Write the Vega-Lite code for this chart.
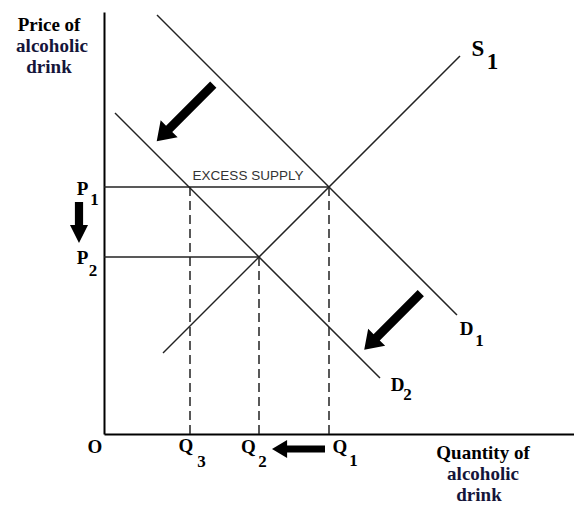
{
  "$schema": "https://vega.github.io/schema/vega-lite/v6.json",
  "width": 470,
  "height": 422,
  "autosize": "none",
  "padding": {"left": 104, "top": 12, "right": 0, "bottom": 71},
  "background": "white",
  "config": {
    "view": {"stroke": null},
    "axis": {"domainColor": "#000", "domainWidth": 2, "ticks": false, "labels": false, "grid": false, "title": null}
  },
  "datasets": {
    "lines": [
      {"name": "S1", "x": 59, "y": 81, "x2": 356, "y2": 378},
      {"name": "D1", "x": 53, "y": 419, "x2": 353, "y2": 119},
      {"name": "D2", "x": 11, "y": 321, "x2": 276, "y2": 56},
      {"name": "P1", "x": 0, "y": 247, "x2": 225, "y2": 247},
      {"name": "P2", "x": 0, "y": 177, "x2": 155, "y2": 177}
    ],
    "dashes": [
      {"name": "Q3", "x": 86, "y": 0, "y2": 247},
      {"name": "Q2", "x": 155, "y": 0, "y2": 177},
      {"name": "Q1", "x": 225, "y": 0, "y2": 247}
    ],
    "diagArrows": [
      {"name": "demand shift", "x": 81, "y": 321},
      {"name": "demand shift 2", "x": 288.5, "y": 112.5}
    ],
    "priceArrow": [{"name": "price fall", "x": -25, "y": 211.5}],
    "qtyArrow": [{"name": "quantity fall", "x": 194.5, "y": -15}],
    "titles": [
      {"text": "Price of", "x": -55, "y": 409, "part": "a"},
      {"text": "alcoholic", "x": -52, "y": 388, "part": "b"},
      {"text": "drink", "x": -55, "y": 367, "part": "b"},
      {"text": "Quantity of", "x": 379, "y": -19, "part": "a"},
      {"text": "alcoholic", "x": 379, "y": -40, "part": "b"},
      {"text": "drink", "x": 375, "y": -61, "part": "b"}
    ],
    "letters": [
      {"text": "P", "x": -21.5, "y": 245.5},
      {"text": "P", "x": -21.5, "y": 176.5},
      {"text": "O", "x": -9, "y": -13},
      {"text": "Q", "x": 82, "y": -12},
      {"text": "Q", "x": 144.5, "y": -13},
      {"text": "Q", "x": 236, "y": -13},
      {"text": "D", "x": 362.5, "y": 105},
      {"text": "D", "x": 293.5, "y": 49.5}
    ],
    "subs": [
      {"text": "1", "x": -9.5, "y": 234},
      {"text": "2", "x": -11, "y": 163},
      {"text": "3", "x": 97.5, "y": -28},
      {"text": "2", "x": 158.5, "y": -28},
      {"text": "1", "x": 249.5, "y": -27},
      {"text": "1", "x": 375.5, "y": 93},
      {"text": "2", "x": 303.5, "y": 39}
    ],
    "supply": [
      {"text": "S", "x": 374, "y": 385},
      {"text": "1", "x": 388.5, "y": 372.5}
    ],
    "notes": [{"text": "EXCESS SUPPLY", "x": 144, "y": 258}]
  },
  "layer": [
    {
      "data": {"name": "lines"},
      "mark": {"type": "rule", "color": "#222", "strokeWidth": 1.5},
      "encoding": {
        "x": {"field": "x", "type": "quantitative", "scale": {"domain": [0, 470], "nice": false, "zero": false}, "axis": {"orient": "bottom"}},
        "y": {"field": "y", "type": "quantitative", "scale": {"domain": [0, 422], "nice": false, "zero": false}, "axis": {"orient": "left"}},
        "x2": {"field": "x2"},
        "y2": {"field": "y2"}
      }
    },
    {
      "data": {"name": "dashes"},
      "mark": {"type": "rule", "color": "#222", "strokeWidth": 1.5, "strokeDash": [9, 5]},
      "encoding": {
        "x": {"field": "x", "type": "quantitative"},
        "y": {"field": "y", "type": "quantitative"},
        "y2": {"field": "y2"}
      }
    },
    {
      "data": {"name": "diagArrows"},
      "mark": {"type": "point", "filled": true, "opacity": 1, "color": "#000", "size": 6400, "angle": 225,
               "shape": "M0,-1L0.3,-0.56L0.11,-0.56L0.11,1L-0.11,1L-0.11,-0.56L-0.3,-0.56Z"},
      "encoding": {
        "x": {"field": "x", "type": "quantitative"},
        "y": {"field": "y", "type": "quantitative"}
      }
    },
    {
      "data": {"name": "priceArrow"},
      "mark": {"type": "point", "filled": true, "opacity": 1, "color": "#000", "size": 1681, "angle": 180,
               "shape": "M0,-1L0.44,-0.12L0.2,-0.12L0.2,1L-0.2,1L-0.2,-0.12L-0.44,-0.12Z"},
      "encoding": {
        "x": {"field": "x", "type": "quantitative"},
        "y": {"field": "y", "type": "quantitative"}
      }
    },
    {
      "data": {"name": "qtyArrow"},
      "mark": {"type": "point", "filled": true, "opacity": 1, "color": "#000", "size": 2809, "angle": 270,
               "shape": "M0,-1L0.34,-0.43L0.13,-0.43L0.13,1L-0.13,1L-0.13,-0.43L-0.34,-0.43Z"},
      "encoding": {
        "x": {"field": "x", "type": "quantitative"},
        "y": {"field": "y", "type": "quantitative"}
      }
    },
    {
      "data": {"name": "titles"},
      "mark": {"type": "text", "font": "Liberation Serif", "fontWeight": "bold", "fontSize": 19, "align": "center", "baseline": "middle"},
      "encoding": {
        "x": {"field": "x", "type": "quantitative"},
        "y": {"field": "y", "type": "quantitative"},
        "text": {"field": "text"},
        "color": {"field": "part", "type": "nominal", "scale": {"domain": ["a", "b"], "range": ["#000000", "#15153a"]}, "legend": null}
      }
    },
    {
      "data": {"name": "letters"},
      "mark": {"type": "text", "font": "Liberation Serif", "fontWeight": "bold", "fontSize": 19, "align": "center", "baseline": "middle", "color": "#000"},
      "encoding": {
        "x": {"field": "x", "type": "quantitative"},
        "y": {"field": "y", "type": "quantitative"},
        "text": {"field": "text"}
      }
    },
    {
      "data": {"name": "subs"},
      "mark": {"type": "text", "font": "Liberation Serif", "fontWeight": "bold", "fontSize": 17, "align": "center", "baseline": "middle", "color": "#000"},
      "encoding": {
        "x": {"field": "x", "type": "quantitative"},
        "y": {"field": "y", "type": "quantitative"},
        "text": {"field": "text"}
      }
    },
    {
      "data": {"name": "supply"},
      "mark": {"type": "text", "font": "Liberation Serif", "fontWeight": "bold", "fontSize": 23, "align": "center", "baseline": "middle", "color": "#000"},
      "encoding": {
        "x": {"field": "x", "type": "quantitative"},
        "y": {"field": "y", "type": "quantitative"},
        "text": {"field": "text"}
      }
    },
    {
      "data": {"name": "notes"},
      "mark": {"type": "text", "font": "Liberation Sans", "fontSize": 13.5, "align": "center", "baseline": "middle", "color": "#333"},
      "encoding": {
        "x": {"field": "x", "type": "quantitative"},
        "y": {"field": "y", "type": "quantitative"},
        "text": {"field": "text"}
      }
    }
  ]
}
